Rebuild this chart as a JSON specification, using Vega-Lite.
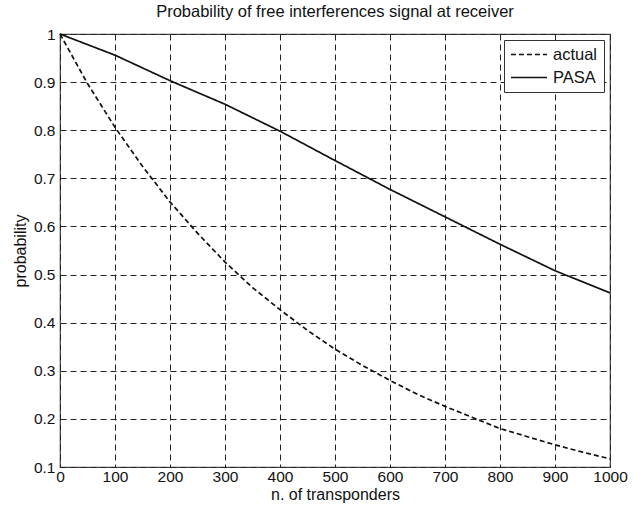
{
  "$schema": "https://vega.github.io/schema/vega-lite/v6.json",
  "autosize": {"type": "none"},
  "padding": {"left": 60, "top": 34, "right": 24, "bottom": 41},
  "width": 550,
  "height": 433,
  "background": "white",
  "title": {
    "text": "Probability of free interferences signal at receiver",
    "fontSize": 16.5,
    "fontWeight": "normal",
    "font": "Liberation Sans",
    "color": "#111",
    "anchor": "middle",
    "offset": 7
  },
  "config": {
    "font": "Liberation Sans",
    "view": {"stroke": "#444", "strokeWidth": 1.2},
    "axis": {
      "domain": false,
      "ticks": false,
      "grid": true,
      "gridColor": "#222",
      "gridDash": [6, 4],
      "gridWidth": 1,
      "gridOpacity": 1,
      "labelFont": "Liberation Sans",
      "labelFontSize": 15.5,
      "labelColor": "#111",
      "titleFont": "Liberation Sans",
      "titleFontSize": 16,
      "titleFontWeight": "normal",
      "titleColor": "#111"
    }
  },
  "data": {
    "values": [
      {"n": 0, "p": 1.0, "series": "actual"},
      {"n": 50, "p": 0.897, "series": "actual"},
      {"n": 100, "p": 0.806, "series": "actual"},
      {"n": 150, "p": 0.725, "series": "actual"},
      {"n": 200, "p": 0.651, "series": "actual"},
      {"n": 250, "p": 0.586, "series": "actual"},
      {"n": 300, "p": 0.526, "series": "actual"},
      {"n": 350, "p": 0.473, "series": "actual"},
      {"n": 400, "p": 0.427, "series": "actual"},
      {"n": 450, "p": 0.384, "series": "actual"},
      {"n": 500, "p": 0.345, "series": "actual"},
      {"n": 550, "p": 0.311, "series": "actual"},
      {"n": 600, "p": 0.28, "series": "actual"},
      {"n": 650, "p": 0.251, "series": "actual"},
      {"n": 700, "p": 0.226, "series": "actual"},
      {"n": 750, "p": 0.203, "series": "actual"},
      {"n": 800, "p": 0.18, "series": "actual"},
      {"n": 850, "p": 0.163, "series": "actual"},
      {"n": 900, "p": 0.146, "series": "actual"},
      {"n": 950, "p": 0.131, "series": "actual"},
      {"n": 1000, "p": 0.117, "series": "actual"},
      {"n": 0, "p": 1.0, "series": "PASA"},
      {"n": 100, "p": 0.956, "series": "PASA"},
      {"n": 200, "p": 0.903, "series": "PASA"},
      {"n": 300, "p": 0.854, "series": "PASA"},
      {"n": 400, "p": 0.798, "series": "PASA"},
      {"n": 500, "p": 0.737, "series": "PASA"},
      {"n": 600, "p": 0.677, "series": "PASA"},
      {"n": 700, "p": 0.62, "series": "PASA"},
      {"n": 800, "p": 0.563, "series": "PASA"},
      {"n": 900, "p": 0.508, "series": "PASA"},
      {"n": 1000, "p": 0.462, "series": "PASA"}
    ]
  },
  "mark": {"type": "line", "color": "#111", "strokeWidth": 1.7},
  "encoding": {
    "x": {
      "field": "n",
      "type": "quantitative",
      "scale": {"domain": [0, 1000], "nice": false, "zero": false},
      "axis": {
        "title": "n. of transponders",
        "values": [0, 100, 200, 300, 400, 500, 600, 700, 800, 900, 1000],
        "format": "d",
        "labelPadding": 2,
        "titlePadding": 2,
        "labelFlush": false
      }
    },
    "y": {
      "field": "p",
      "type": "quantitative",
      "scale": {"domain": [0.1, 1], "nice": false, "zero": false},
      "axis": {
        "title": "probability",
        "values": [0.1, 0.2, 0.3, 0.4, 0.5, 0.6, 0.7, 0.8, 0.9, 1],
        "format": ".1~f",
        "labelPadding": 5,
        "titlePadding": 5,
        "labelFlush": false
      }
    },
    "strokeDash": {
      "field": "series",
      "type": "nominal",
      "sort": ["actual", "PASA"],
      "scale": {"domain": ["actual", "PASA"], "range": [[5, 3], [1, 0]]},
      "legend": {
        "title": null,
        "orient": "top-right",
        "offset": 6,
        "fillColor": "white",
        "strokeColor": "#333",
        "padding": 6,
        "rowPadding": 6,
        "clipHeight": 17,
        "symbolType": "stroke",
        "symbolSize": 1300,
        "symbolStrokeWidth": 1.6,
        "symbolStrokeColor": "#111",
        "labelFontSize": 16.5,
        "labelFont": "Liberation Sans",
        "labelColor": "#111",
        "labelOffset": 5
      }
    }
  }
}
